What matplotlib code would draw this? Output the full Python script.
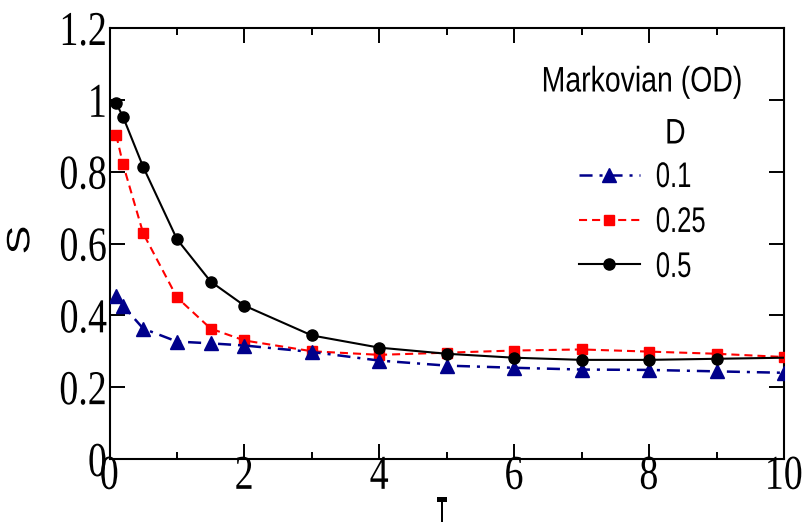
import matplotlib
matplotlib.use('Agg')
import matplotlib.pyplot as plt
from matplotlib.patheffects import AbstractPathEffect
from matplotlib.transforms import Affine2D
from matplotlib.font_manager import FontProperties

# ---------------- data ----------------
T_vals = [0.1, 0.2, 0.5, 1, 1.5, 2, 3, 4, 5, 6, 7, 8, 9, 10]
S_D01 = [0.455, 0.427, 0.363, 0.327, 0.322, 0.316, 0.298, 0.274, 0.260, 0.254, 0.249, 0.248, 0.244, 0.240]
S_D025 = [0.902, 0.821, 0.628, 0.450, 0.363, 0.330, 0.300, 0.290, 0.296, 0.302, 0.305, 0.299, 0.293, 0.284]
S_D05 = [0.990, 0.953, 0.813, 0.612, 0.494, 0.427, 0.344, 0.310, 0.293, 0.282, 0.276, 0.276, 0.279, 0.282]

x_ticks = [0, 2, 4, 6, 8, 10]
x_ticklabels = ['0', '2', '4', '6', '8', '10']
x_minor = [1, 3, 5, 7, 9]
y_ticks = [0, 0.2, 0.4, 0.6, 0.8, 1.0, 1.2]
y_ticklabels = ['0', '0.2', '0.4', '0.6', '0.8', '1', '1.2']
legend_labels = ['0.1', '0.25', '0.5']
legend_title = 'Markovian (OD)'
legend_subtitle = 'D'
x_label = 'T'
y_label = 'S'


class Squeeze(AbstractPathEffect):
    """Draw text glyphs compressed along one direction (text stays real text)."""
    def __init__(self, sx=1.0, sy=1.0, anchor='center'):
        super().__init__()
        self.sx, self.sy, self.anchor = sx, sy, anchor

    def draw_path(self, renderer, gc, tpath, affine, rgbFace=None):
        v = tpath.vertices
        if len(v):
            xs, ys = v[:, 0], v[:, 1]
            if self.anchor == 'left':
                cx = 0.0
            elif self.anchor == 'right':
                cx = xs.max()
            else:
                cx = 0.5 * (xs.min() + xs.max())
            cy = 0.5 * (ys.min() + ys.max())
            pre = Affine2D().translate(-cx, -cy).scale(self.sx, self.sy).translate(cx, cy)
            affine = pre + affine
        renderer.draw_path(gc, tpath, affine, rgbFace)


plt.rcParams['lines.scale_dashes'] = False

fig = plt.figure(figsize=(8.06, 5.22), dpi=100)
ax = fig.add_axes([109.5 / 806, (522 - 459) / 522, 674.5 / 806, 431 / 522])

l_red, = ax.plot(T_vals, S_D025, color='#ff0000', lw=1.5, ls=(0, (5.8, 3.6)),
                 marker='s', ms=7.5, zorder=3)
l_blue, = ax.plot(T_vals, S_D01, color='#00008b', lw=1.8, ls=(0, (9.4, 5, 2.2, 5)),
                  marker='^', ms=9.5, zorder=4)
l_black, = ax.plot(T_vals, S_D05, color='black', lw=1.5, marker='o', ms=8,
                   markevery=list(range(len(T_vals) - 1)), zorder=5)

ax.set_xlim(0, 10)
ax.set_ylim(0, 1.2)
ax.set_xticks(x_ticks)
ax.set_xticks(x_minor, minor=True)
ax.set_yticks(y_ticks)

tick_font = FontProperties(family='Liberation Serif', size=35)
ax.set_xticklabels(x_ticklabels, fontproperties=tick_font)
ax.set_yticklabels(y_ticklabels, fontproperties=tick_font)

ax.tick_params(which='both', direction='in', top=True, right=True, width=1.4)
ax.tick_params(which='major', length=10.5)
ax.tick_params(which='minor', length=5)
ax.tick_params(axis='x', which='major', pad=-3)
ax.tick_params(axis='y', which='major', pad=1.5)
for sp in ax.spines.values():
    sp.set_linewidth(1.5)

for t in ax.get_xticklabels():
    t.set_path_effects([Squeeze(sx=0.78, anchor='center')])
for t in ax.get_yticklabels():
    t.set_path_effects([Squeeze(sx=0.78, anchor='right')])

# axis labels
ax.set_ylabel(y_label, fontproperties=FontProperties(family='Liberation Sans', size=31))
ax.yaxis.label.set_va('center')
ax.yaxis.set_label_coords((22 - 109.5) / 674.5, (459 - 240) / 431)
ax.yaxis.label.set_path_effects([Squeeze(sy=0.75)])

ax.set_xlabel(x_label, fontproperties=FontProperties(family='Liberation Sans', size=31, weight='bold'))
ax.xaxis.label.set_va('baseline')
ax.xaxis.set_label_coords((442 - 109.5) / 674.5, (459 - 527) / 431)
ax.xaxis.label.set_path_effects([Squeeze(sx=0.4)])

# legend
leg_font = FontProperties(family='Liberation Sans', size=25.6)
leg = ax.legend(handles=[l_blue, l_red, l_black], labels=legend_labels,
                loc='upper left', bbox_to_anchor=((579 - 109.5) / 674.5, (459 - 160) / 431),
                frameon=False, borderpad=0, borderaxespad=0, handlelength=1.71,
                handletextpad=0.45, labelspacing=0.28, numpoints=1, prop=leg_font)
for t in leg.get_texts():
    t.set_path_effects([Squeeze(sx=0.72, anchor='left')])

t1 = ax.text((642 - 109.5) / 674.5, (459 - 91.5) / 431, legend_title, transform=ax.transAxes,
             ha='center', va='baseline', fontproperties=leg_font)
t1.set_path_effects([Squeeze(sx=0.8)])
t2 = ax.text((675.5 - 109.5) / 674.5, (459 - 143.5) / 431, legend_subtitle, transform=ax.transAxes,
             ha='center', va='baseline', fontproperties=leg_font)
t2.set_path_effects([Squeeze(sx=0.8)])

fig.savefig('out.png', dpi=100)
